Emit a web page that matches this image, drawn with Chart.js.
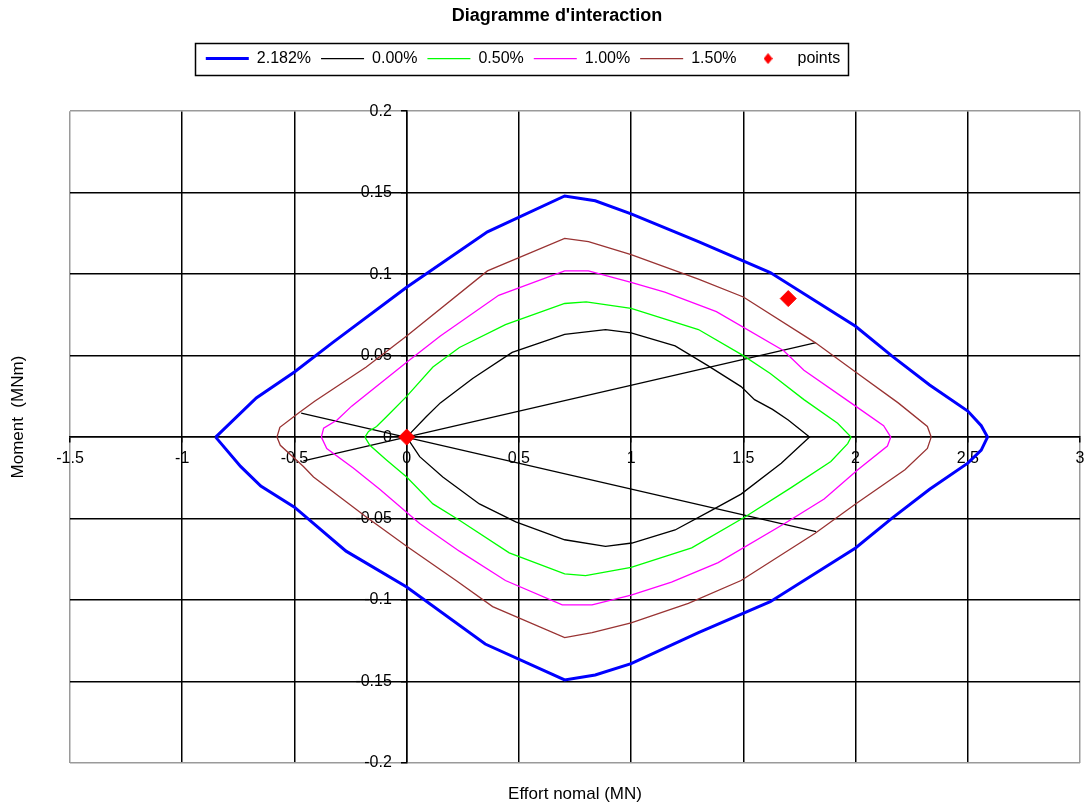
<!DOCTYPE html>
<html>
<head>
<meta charset="utf-8">
<title>Diagramme d'interaction</title>
<script src="https://cdn.jsdelivr.net/npm/chart.js@4.4.1/dist/chart.umd.min.js"></script>
<style>
    html, body { margin: 0; padding: 0; background: #fff; }
    #wrap { width: 1089px; height: 808px; }
</style>
</head>
<body>
<div id="wrap"><canvas id="chart"></canvas></div>
<script>
// Effort normal N (MN) and moment M (MNm), going round each curve
let n2182 = [-0.851, -0.67, -0.50, -0.33, 0.00, 0.36, 0.704, 0.84, 1.00, 1.30, 1.62, 2.00, 2.16, 2.33, 2.50, 2.56, 2.588,
             2.56, 2.50, 2.33, 2.16, 2.00, 1.62, 1.30, 1.00, 0.84, 0.704, 0.35, 0.00, -0.27, -0.50, -0.65, -0.74, -0.851];
let m2182 = [0, 0.024, 0.040, 0.058, 0.092, 0.126, 0.148, 0.145, 0.137, 0.120, 0.101, 0.068, 0.050, 0.032, 0.016, 0.007, 0,
             -0.008, -0.016, -0.032, -0.050, -0.068, -0.101, -0.120, -0.139, -0.146, -0.149, -0.127, -0.092, -0.070, -0.043, -0.030, -0.018, 0];

let n000 = [0, 0.087, 0.15, 0.294, 0.47, 0.704, 0.886, 1.00, 1.196, 1.34, 1.49, 1.55, 1.63, 1.70, 1.795,
            1.669, 1.49, 1.358, 1.196, 1.004, 0.886, 0.704, 0.486, 0.324, 0.161, 0.058, 0];
let m000 = [0, 0.0125, 0.021, 0.036, 0.052, 0.063, 0.066, 0.064, 0.056, 0.044, 0.031, 0.023, 0.017, 0.0105, 0,
            -0.016, -0.035, -0.045, -0.057, -0.065, -0.067, -0.063, -0.052, -0.041, -0.0245, -0.012, 0];

let n050 = [-0.186, -0.17, -0.134, -0.09, 0, 0.117, 0.235, 0.44, 0.704, 0.80, 1.00, 1.30, 1.50, 1.62, 1.77, 1.92, 1.98,
            1.965, 1.89, 1.713, 1.507, 1.27, 1.00, 0.797, 0.704, 0.457, 0.235, 0.117, 0, -0.09, -0.164, -0.186];
let m050 = [0, 0.0035, 0.0065, 0.0125, 0.025, 0.043, 0.055, 0.069, 0.082, 0.083, 0.079, 0.066, 0.050, 0.039, 0.023, 0.0085, 0,
            -0.004, -0.015, -0.031, -0.049, -0.068, -0.080, -0.085, -0.084, -0.071, -0.051, -0.041, -0.0245, -0.014, -0.005, 0];

let n100 = [-0.38, -0.37, -0.31, -0.245, 0, 0.15, 0.41, 0.704, 0.81, 1.00, 1.15, 1.38, 1.68, 1.77, 2.00, 2.125, 2.157,
            2.142, 2.01, 1.86, 1.684, 1.388, 1.18, 1.00, 0.826, 0.693, 0.44, 0.235, 0.058, -0.12, -0.238, -0.356, -0.38];
let m100 = [0, 0.0055, 0.0105, 0.019, 0.046, 0.062, 0.087, 0.102, 0.102, 0.095, 0.089, 0.077, 0.053, 0.041, 0.019, 0.007, 0,
            -0.0055, -0.020, -0.038, -0.053, -0.077, -0.089, -0.097, -0.103, -0.103, -0.088, -0.070, -0.053, -0.032, -0.019, -0.007, 0];

let n150 = [-0.578, -0.565, -0.48, -0.41, -0.18, 0, 0.36, 0.704, 0.81, 1.00, 1.30, 1.50, 1.82, 2.00, 2.19, 2.32, 2.337,
            2.32, 2.22, 2.00, 1.82, 1.49, 1.255, 1.00, 0.826, 0.704, 0.383, 0.22, 0, -0.18, -0.415, -0.46, -0.563, -0.578];
let m150 = [0, 0.006, 0.015, 0.022, 0.043, 0.062, 0.102, 0.122, 0.120, 0.112, 0.097, 0.086, 0.058, 0.040, 0.021, 0.0065, 0,
            -0.007, -0.020, -0.041, -0.059, -0.088, -0.102, -0.114, -0.120, -0.123, -0.104, -0.088, -0.067, -0.049, -0.0245, -0.018, -0.005, 0];

// two straight black lines through the origin
let rayN1 = [-0.47, 1.824];
let rayM1 = [0.0147, -0.058];
let rayN2 = [-0.46, 1.824];
let rayM2 = [-0.0146, 0.058];

// the red points
let pointsN = [0, 1.70];
let pointsM = [0, 0.085];

let xTicks = { min: -1.5, max: 3, step: 0.5 };
let yTicks = { min: -0.2, max: 0.2, step: 0.05 };

let font = "'Liberation Sans', Arial, sans-serif";
Chart.defaults.font.family = font;
Chart.defaults.color = '#000';

function toXY(n, m) {
    return n.map((v, i) => ({ x: v, y: m[i] }));
}

function curve(label, n, m, color, width) {
    return {
        label: label,
        data: toXY(n, m),
        showLine: true,
        borderColor: color,
        backgroundColor: color,
        borderWidth: width,
        pointRadius: 0,
        pointHoverRadius: 0,
        pointStyle: 'line',
        tension: 0,
        fill: false,
        order: 1
    };
}

// small red diamond for the legend entry of the points
let diamond = document.createElement('canvas');
diamond.width = 9;
diamond.height = 11;
let dctx = diamond.getContext('2d');
dctx.fillStyle = '#ff0000';
dctx.beginPath();
dctx.moveTo(4.5, 0);
dctx.lineTo(9, 5.5);
dctx.lineTo(4.5, 11);
dctx.lineTo(0, 5.5);
dctx.closePath();
dctx.fill();

function gridColor(ctx, lo, hi) {
    if (!ctx.tick) return '#000';
    let v = ctx.tick.value;
    return (Math.abs(v - lo) < 1e-9 || Math.abs(v - hi) < 1e-9) ? '#9a9a9a' : '#000';
}

function numLabel(v) {
    return String(Math.round(v * 1000) / 1000);
}

let legendFrame = {
    id: 'legendFrame',
    afterLayout(chart) {
        // title, legend and y title are not centred like Chart.js would do it
        chart.titleBlock.left += 14;
        chart.titleBlock.right += 14;
        chart.legend.left -= 20;
        chart.legend.right -= 20;
        chart.scales.titleY.top -= 40;
    },
    afterDraw(chart) {
        let boxes = chart.legend.legendHitBoxes;
        if (!boxes || !boxes.length) return;
        let left = Math.min(...boxes.map(b => b.left)) - 11;
        let right = Math.max(...boxes.map(b => b.left + b.width)) + 8;
        let top = boxes[0].top - 8;
        let bottom = boxes[0].top + boxes[0].height + 8;
        let c = chart.ctx;
        c.save();
        c.strokeStyle = '#000';
        c.lineWidth = 1.5;
        c.strokeRect(Math.round(left) + 0.5, Math.round(top) + 0.5, Math.round(right - left), Math.round(bottom - top));
        c.restore();
    }
};

let ctx = document.getElementById('chart').getContext('2d');

let chart = new Chart(ctx, {
    type: 'scatter',
    data: {
        datasets: [
            curve('2.182%', n2182, m2182, '#0000ff', 3),
            curve('0.00%', n000, m000, '#000000', 1.3),
            curve('0.50%', n050, m050, '#00ff00', 1.3),
            curve('1.00%', n100, m100, '#ff00ff', 1.3),
            curve('1.50%', n150, m150, '#993333', 1.3),
            {
                label: 'points',
                data: toXY(pointsN, pointsM),
                showLine: false,
                pointStyle: 'rectRot',
                pointRadius: 8,
                pointHoverRadius: 8,
                borderWidth: 1,
                borderColor: '#ff0000',
                backgroundColor: '#ff0000',
                order: 0
            },
            curve('', rayN1, rayM1, '#000000', 1.3),
            curve('', rayN2, rayM2, '#000000', 1.3)
        ]
    },
    options: {
        responsive: true,
        maintainAspectRatio: false,
        animation: false,
        events: [],
        layout: { padding: { top: 0, right: 3, bottom: 0, left: 0 } },
        scales: {
            x: {
                type: 'linear',
                position: { y: 0 },
                min: xTicks.min,
                max: xTicks.max,
                ticks: {
                    stepSize: xTicks.step,
                    padding: 7,
                    font: { size: 16 },
                    callback: numLabel
                },
                grid: {
                    color: c => gridColor(c, xTicks.min, xTicks.max),
                    lineWidth: 1.5,
                    tickLength: 5,
                    tickColor: '#000'
                },
                border: { color: '#000', width: 1.5 },
                afterFit: s => { s.paddingLeft = 0; s.paddingRight = 0; }
            },
            y: {
                type: 'linear',
                position: { x: 0 },
                min: yTicks.min,
                max: yTicks.max,
                ticks: { stepSize: yTicks.step, display: false },
                grid: {
                    color: c => gridColor(c, yTicks.min, yTicks.max),
                    lineWidth: 1.5,
                    tickLength: 5,
                    tickColor: '#000'
                },
                border: { color: '#000', width: 1.5 }
            },
            // labels of the y axis, set a little to the left of the x = 0 line
            yLabels: {
                type: 'linear',
                position: { x: -0.066 },
                min: yTicks.min,
                max: yTicks.max,
                ticks: {
                    stepSize: yTicks.step,
                    font: { size: 16 },
                    callback: numLabel
                },
                grid: { display: false },
                border: { display: false },
                afterFit: s => { s.paddingTop = 0; s.paddingBottom = 0; }
            },
            gapTop: {
                type: 'linear',
                position: 'top',
                ticks: { display: false },
                grid: { display: false },
                border: { display: false },
                afterFit: s => { s.height = 34.6; }
            },
            titleX: {
                type: 'linear',
                position: 'bottom',
                ticks: { display: false },
                grid: { display: false },
                border: { display: false },
                title: {
                    display: true,
                    text: 'Effort nomal (MN)',
                    font: { size: 17 },
                    padding: { top: 0, bottom: 3 }
                },
                afterFit: s => { s.height = 45; }
            },
            titleY: {
                type: 'linear',
                position: 'left',
                ticks: { display: false },
                grid: { display: false },
                border: { display: false },
                title: {
                    display: true,
                    text: 'Moment  (MNm)',
                    font: { size: 17 },
                    padding: { top: 8, bottom: 0 }
                },
                afterFit: s => { s.width = 70; }
            }
        },
        plugins: {
            tooltip: { enabled: false },
            title: {
                display: true,
                text: "Diagramme d'interaction",
                font: { size: 18, weight: 'bold' },
                padding: { top: 5, bottom: 14 }
            },
            legend: {
                display: true,
                position: 'top',
                labels: {
                    usePointStyle: true,
                    pointStyleWidth: 43,
                    padding: 10,
                    font: { size: 16 },
                    filter: item => item.text !== '',
                    sort: (a, b) => a.datasetIndex - b.datasetIndex,
                    generateLabels: function (chart) {
                        let items = Chart.defaults.plugins.legend.labels.generateLabels(chart);
                        items.forEach(it => {
                            if (it.text === 'points') it.pointStyle = diamond;
                        });
                        return items;
                    }
                }
            }
        }
    },
    plugins: [legendFrame]
});
</script>
</body>
</html>
